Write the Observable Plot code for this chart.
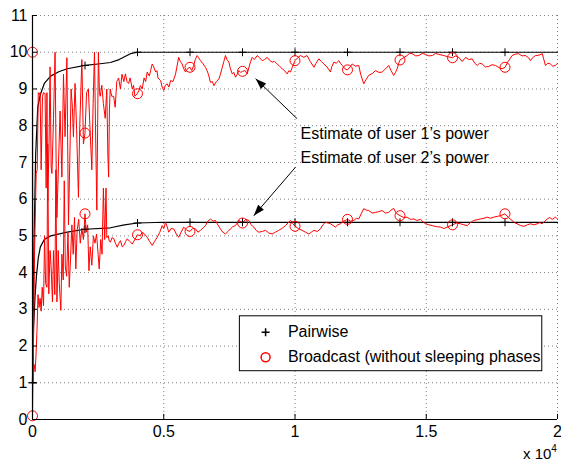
<!DOCTYPE html>
<html><head><meta charset="utf-8">
<script src="https://cdn.jsdelivr.net/npm/d3@7"></script>
<script src="https://cdn.jsdelivr.net/npm/@observablehq/plot@0.6"></script>
<style>body{margin:0;background:#fff;} svg{display:block;}</style>
</head><body><div id="chart"></div>
<script>
// x in units of 10^4 iterations
const xTicks = [0, 0.5, 1, 1.5, 2];
const yTicks = [0, 1, 2, 3, 4, 5, 6, 7, 8, 9, 10, 11];

const pairwiseUser1 = [[0,1],[0.005,4.5],[0.012,7.2],[0.02,8.5],[0.03,8.85],[0.045,9.15],[0.069,9.35],[0.1,9.47],[0.132,9.55],[0.2,9.64],[0.25,9.68],[0.297,9.72],[0.33,9.8],[0.373,9.96],[0.4,10],[2,10]];
const pairwiseUser2 = [[0,1],[0.004,2.5],[0.01,3.4],[0.015,3.9],[0.022,4.4],[0.03,4.7],[0.045,4.9],[0.069,5.0],[0.132,5.1],[0.2,5.18],[0.297,5.22],[0.35,5.3],[0.4,5.35],[0.5,5.37],[2,5.37]];

const broadcastUser1 = [[0,10],[0.002,1.0],[0.008,4.6],[0.014,6.7],[0.018,6.8],[0.022,8.9],[0.026,8.85],[0.029,8.9],[0.033,6.8],[0.038,8.8],[0.042,8.9],[0.048,8.87],[0.052,6.3],[0.055,8.9],[0.058,5.95],[0.063,7.5],[0.067,9.6],[0.071,6.9],[0.074,6.7],[0.08,8.2],[0.086,10.0],[0.09,7.0],[0.093,5.5],[0.1,7.2],[0.105,8.4],[0.112,6.6],[0.118,9.4],[0.124,7.7],[0.131,9.85],[0.137,5.3],[0.142,7.0],[0.147,9.0],[0.152,8.5],[0.156,7.7],[0.162,9.15],[0.168,7.9],[0.175,6.05],[0.18,8.0],[0.188,9.8],[0.194,7.5],[0.2,7.8],[0.206,8.9],[0.213,9.0],[0.218,8.1],[0.226,6.8],[0.231,8.6],[0.236,10.0],[0.24,8.0],[0.245,5.7],[0.251,10.0],[0.255,8.9],[0.258,8.8],[0.264,9.1],[0.27,8.6],[0.277,8.2],[0.283,9.0],[0.287,7.2],[0.29,6.6],[0.293,8.4],[0.296,9.0],[0.302,8.8],[0.309,8.8],[0.315,8.5],[0.321,9.2],[0.328,9.3],[0.335,9.0],[0.341,9.4],[0.348,9.2],
[0.354,9.41],[0.36,9.2],[0.366,9.15],[0.372,9.3],[0.38,9.0],[0.385,9.1],[0.39,8.8],[0.399,8.87],[0.405,8.95],[0.411,9.09],[0.418,9.0],[0.425,9.3],[0.431,9.2],[0.437,9.46],[0.445,9.35],[0.45,9.5],[0.456,9.68],[0.462,9.6],[0.469,9.46],[0.474,9.5],[0.478,9.3],[0.488,9.23],[0.494,9.05],[0.5,8.96],[0.506,9.1],[0.513,9.14],[0.52,9.05],[0.526,9.23],[0.535,9.2],[0.54,9.3],[0.545,9.41],[0.55,9.6],[0.557,9.86],[0.563,9.75],[0.57,9.68],[0.576,9.55],[0.583,9.46],[0.59,9.55],[0.6,9.59],[0.607,9.5],[0.614,9.64],[0.62,9.8],[0.627,9.91],[0.633,9.85],[0.64,9.77],[0.648,9.7],[0.659,9.59],[0.665,9.5],[0.67,9.4],[0.678,9.18],[0.685,9.2],[0.691,9.09],[0.7,9.2],[0.71,9.27],[0.716,9.4],[0.723,9.59],[0.729,9.75],[0.735,9.91],[0.741,9.8],[0.748,9.73],[0.754,9.55],[0.761,9.41],[0.767,9.45],[0.773,9.32],[0.78,9.4],[0.786,9.5],[0.793,9.45],[0.8,9.48],[0.81,9.5],[0.818,9.41],[0.825,9.6],[0.831,9.75],[0.837,9.86],[0.845,9.8],[0.856,9.91],[0.865,9.85],[0.875,9.77],[0.884,9.8],[0.894,9.86],[0.903,9.78],[0.913,9.73],[0.922,9.75],[0.932,9.68],[0.941,9.62],[0.951,9.55],[0.96,9.5],[0.97,9.41],[0.977,9.5],[0.983,9.46],[0.99,9.6],[1.0,9.77],[1.01,9.85],[1.021,9.91],[1.033,9.86],[1.046,9.91],[1.058,9.75],[1.072,9.59],[1.08,9.7],[1.091,9.82],[1.1,9.75],[1.11,9.68],[1.122,9.6],[1.135,9.46],[1.14,9.6],[1.148,9.73],[1.157,9.7],[1.167,9.77],[1.173,9.7],[1.18,9.64],[1.19,9.55],[1.2,9.52],[1.21,9.6],[1.218,9.68],[1.23,9.62],[1.243,9.64],[1.25,9.4],[1.262,9.14],[1.27,9.25],[1.281,9.37],[1.294,9.42],[1.307,9.5],[1.32,9.45],[1.332,9.46],[1.345,9.55],[1.357,9.64],[1.366,9.5],[1.376,9.37],[1.383,9.45],[1.389,9.55],[1.395,9.7],[1.4,9.79],[1.413,9.85],[1.427,9.91],[1.436,9.97],[1.446,9.96],[1.46,9.9],[1.472,9.91],[1.485,9.97],[1.497,9.94],[1.51,9.9],[1.523,9.91],[1.535,9.97],[1.548,9.94],[1.567,9.91],[1.58,9.88],[1.6,9.85],[1.612,9.9],[1.624,9.86],[1.637,9.75],[1.65,9.86],[1.662,9.8],[1.675,9.82],[1.685,9.7],[1.694,9.64],[1.703,9.7],[1.713,9.68],[1.725,9.6],[1.738,9.61],[1.75,9.66],[1.764,9.64],[1.777,9.58],[1.789,9.55],[1.8,9.59],[1.812,9.75],[1.827,9.91],[1.84,9.95],[1.852,9.96],[1.865,9.9],[1.878,9.91],[1.89,9.85],[1.897,9.77],[1.905,9.85],[1.916,9.91],[1.93,9.92],[1.942,9.96],[1.948,9.8],[1.954,9.64],[1.963,9.7],[1.973,9.68],[1.982,9.62],[1.992,9.64],[2.0,9.7]];

const broadcastUser2 = [[0,0.1],[0.002,1.2],[0.006,1.5],[0.01,1.3],[0.013,1.7],[0.017,2.4],[0.021,3.4],[0.025,3.05],[0.029,3.3],[0.033,2.95],[0.037,3.6],[0.042,3.1],[0.046,5.0],[0.05,3.7],[0.055,3.6],[0.058,7.5],[0.062,3.42],[0.067,4.6],[0.071,4.15],[0.076,3.2],[0.08,4.6],[0.085,3.4],[0.089,6.8],[0.093,3.2],[0.098,4.6],[0.102,3.7],[0.108,2.97],[0.112,4.5],[0.117,3.8],[0.121,6.5],[0.125,4.15],[0.13,3.9],[0.135,5.1],[0.14,3.6],[0.145,4.4],[0.15,5.3],[0.155,4.5],[0.16,5.5],[0.165,4.1],[0.17,5.15],[0.176,5.45],[0.182,4.8],[0.188,5.2],[0.194,4.9],[0.2,5.6],[0.205,5.1],[0.21,5.3],[0.215,4.05],[0.22,4.7],[0.226,4.2],[0.232,5.0],[0.238,4.8],[0.244,5.05],[0.25,4.5],[0.254,4.1],[0.26,4.9],[0.265,4.5],[0.27,6.3],[0.275,4.9],[0.28,6.3],[0.283,4.95],[0.288,5.0],[0.293,4.85],
[0.297,4.83],[0.303,4.95],[0.31,4.92],[0.316,4.8],[0.323,4.69],[0.329,4.8],[0.335,4.87],[0.342,4.7],[0.348,4.74],[0.355,4.85],[0.361,4.92],[0.37,4.85],[0.38,4.78],[0.39,4.9],[0.4,5.03],[0.41,5.0],[0.418,5.1],[0.427,5.05],[0.437,4.96],[0.446,4.85],[0.456,4.74],[0.465,4.85],[0.475,4.96],[0.485,5.1],[0.494,5.28],[0.5,5.2],[0.507,5.37],[0.513,5.25],[0.519,5.1],[0.528,5.2],[0.538,5.19],[0.548,5.05],[0.557,4.96],[0.566,5.1],[0.576,5.24],[0.588,5.15],[0.6,5.12],[0.61,5.2],[0.621,5.19],[0.63,5.1],[0.64,5.15],[0.65,5.22],[0.659,5.28],[0.668,5.4],[0.678,5.46],[0.688,5.4],[0.697,5.42],[0.706,5.3],[0.716,5.19],[0.725,5.1],[0.735,5.05],[0.745,5.12],[0.754,5.19],[0.763,5.25],[0.773,5.28],[0.78,5.35],[0.786,5.42],[0.8,5.35],[0.812,5.45],[0.824,5.42],[0.833,5.3],[0.843,5.24],[0.852,5.15],[0.862,5.1],[0.875,5.12],[0.888,5.15],[0.9,5.08],[0.913,5.05],[0.925,5.1],[0.938,5.15],[0.95,5.2],[0.964,5.28],[0.973,5.35],[0.983,5.42],[0.992,5.33],[1.0,5.26],[1.013,5.2],[1.027,5.15],[1.04,5.1],[1.053,5.05],[1.062,5.1],[1.072,5.15],[1.085,5.12],[1.097,5.19],[1.106,5.3],[1.116,5.37],[1.126,5.35],[1.135,5.33],[1.145,5.28],[1.154,5.24],[1.163,5.3],[1.173,5.33],[1.186,5.4],[1.2,5.45],[1.212,5.4],[1.224,5.42],[1.234,5.48],[1.243,5.46],[1.252,5.6],[1.262,5.74],[1.272,5.7],[1.281,5.69],[1.294,5.62],[1.307,5.64],[1.32,5.66],[1.332,5.69],[1.345,5.62],[1.357,5.64],[1.366,5.7],[1.376,5.75],[1.383,5.65],[1.389,5.6],[1.4,5.55],[1.414,5.5],[1.427,5.51],[1.44,5.45],[1.453,5.46],[1.465,5.42],[1.478,5.45],[1.488,5.38],[1.497,5.33],[1.51,5.3],[1.523,5.28],[1.538,5.25],[1.554,5.24],[1.567,5.2],[1.58,5.24],[1.6,5.3],[1.615,5.35],[1.63,5.33],[1.643,5.3],[1.656,5.28],[1.668,5.36],[1.681,5.42],[1.694,5.44],[1.707,5.46],[1.72,5.48],[1.732,5.51],[1.745,5.48],[1.757,5.51],[1.77,5.53],[1.783,5.55],[1.8,5.6],[1.813,5.5],[1.827,5.42],[1.836,5.36],[1.846,5.33],[1.86,5.28],[1.872,5.26],[1.885,5.3],[1.897,5.33],[1.91,5.3],[1.923,5.33],[1.932,5.36],[1.942,5.33],[1.952,5.4],[1.961,5.46],[1.97,5.5],[1.98,5.45],[1.992,5.51],[2.0,5.46]];

// marker positions (every 2000 iterations)
const markerX = [0, 0.2, 0.4, 0.6, 0.8, 1.0, 1.2, 1.4, 1.6, 1.8];
const pairwiseMarks1 = [1, 9.64, 10, 10, 10, 10, 10, 10, 10, 10];
const pairwiseMarks2 = [1, 5.18, 5.35, 5.37, 5.37, 5.37, 5.37, 5.37, 5.37, 5.37];
const broadcastMarks1 = [10, 7.8, 8.87, 9.59, 9.48, 9.77, 9.52, 9.79, 9.85, 9.59];
const broadcastMarks2 = [0.1, 5.6, 5.03, 5.12, 5.35, 5.26, 5.45, 5.55, 5.3, 5.6];

const annotationTexts = ["Estimate of user 1\u2019s power", "Estimate of user 2\u2019s power"];
const annotationX = [1.021, 1.021];
const annotationY = [7.79, 7.13];
const arrowFrom = [[1.008, 8.19], [1.002, 6.87]];
const arrowTo = [[0.85, 9.28], [0.843, 5.55]];

const legendLabels = ["Pairwise", "Broadcast (without sleeping phases"];

const W = 561, H = 468, ML = 32, MR = 4, MT = 15, MB = 49;
const pxPerX = (W - ML - MR) / 2, pxPerY = (H - MT - MB) / 11;
const arrowAngle = arrowFrom.map((f, i) => Math.atan2(-(arrowTo[i][1] - f[1]) * pxPerY, (arrowTo[i][0] - f[0]) * pxPerX) * 180 / Math.PI);

const thinPlus = {draw(ctx, size){ const r = Math.sqrt(size/Math.PI); ctx.moveTo(-r,0); ctx.lineTo(r,0); ctx.moveTo(0,-r); ctx.lineTo(0,r); }};
const arrowHead = {draw(ctx, size){ const L = 11, w = 3.8; ctx.moveTo(0,0); ctx.lineTo(-L, w); ctx.lineTo(-L, -w); ctx.closePath(); }};

const pm = (ys) => markerX.map((x,i)=>[x, ys[i]]);
const FONT = "'Liberation Sans', Arial, Helvetica, sans-serif";

const chart = Plot.plot({
  width: W, height: H,
  marginLeft: ML, marginRight: MR, marginTop: MT, marginBottom: MB,
  x: {domain: [0, 2]},
  y: {domain: [0, 11]},
  style: {fontFamily: FONT, fontSize: "16px", color: "black", background: "white"},
  marks: [
    Plot.gridX(xTicks, {stroke: "#808080", strokeOpacity: 1, strokeDasharray: "1,3"}),
    Plot.gridY(yTicks, {stroke: "#808080", strokeOpacity: 1, strokeDasharray: "1,3"}),
    Plot.axisX(xTicks, {tickSize: 0, tickPadding: 6, fontSize: 16, tickFormat: d => String(d)}),
    Plot.axisY(yTicks, {tickSize: 0, tickPadding: 5, fontSize: 16, tickFormat: d => String(d)}),
    Plot.line(pairwiseUser1, {stroke: "black", strokeWidth: 1.2}),
    Plot.line(pairwiseUser2, {stroke: "black", strokeWidth: 1.2}),
    Plot.line(broadcastUser1, {stroke: "#ff0000", strokeWidth: 1}),
    Plot.line(broadcastUser2, {stroke: "#ff0000", strokeWidth: 1}),
    Plot.dot(pm(pairwiseMarks1), {symbol: thinPlus, r: 4, stroke: "black", strokeWidth: 1, fill: "none"}),
    Plot.dot(pm(pairwiseMarks2), {symbol: thinPlus, r: 4, stroke: "black", strokeWidth: 1, fill: "none"}),
    Plot.dot(pm(broadcastMarks1), {r: 5, stroke: "#ff0000", strokeWidth: 1, fill: "none"}),
    Plot.dot(pm(broadcastMarks2), {r: 5, stroke: "#ff0000", strokeWidth: 1, fill: "none"}),
    Plot.ruleX([0], {y1: 0, y2: 11, stroke: "black", strokeWidth: 1.2}),
    Plot.ruleY([0], {x1: 0, x2: 2, stroke: "black", strokeWidth: 1.2}),
    Plot.ruleY(yTicks, {x1: 0, x2: 0.019, stroke: "black"}),
    Plot.ruleX(xTicks, {y1: 0, y2: 0.14, stroke: "black"}),
    Plot.link([0, 1], {x1: i => arrowFrom[i][0], y1: i => arrowFrom[i][1], x2: i => arrowTo[i][0], y2: i => arrowTo[i][1], stroke: "black", strokeWidth: 1}),
    Plot.dot([0, 1], {x: i => arrowTo[i][0], y: i => arrowTo[i][1], symbol: arrowHead, r: 4, rotate: i => arrowAngle[i], fill: "black", stroke: "none"}),
    Plot.text([0, 1], {x: i => annotationX[i], y: i => annotationY[i], text: i => annotationTexts[i], textAnchor: "start", fontSize: 16, fill: "black"}),
    Plot.rect([0], {x1: 0.79, x2: 1.942, y1: 1.315, y2: 2.81, fill: "white", stroke: "black", strokeWidth: 1}),
    Plot.dot([[0.888, 2.377]], {symbol: thinPlus, r: 4, stroke: "black", fill: "none"}),
    Plot.dot([[0.888, 1.696]], {r: 4.5, stroke: "#ff0000", fill: "none"}),
    Plot.text([0, 1], {x: 0.973, y: i => [2.377, 1.696][i], text: i => legendLabels[i], textAnchor: "start", fontSize: 16, fill: "black"})
  ]
});

const svg = d3.select(chart);
const lbl = svg.append("text").attr("x", 523).attr("y", 459).attr("font-size", 15).attr("fill", "black")
  .attr("text-anchor", "start").attr("font-family", FONT);
lbl.append("tspan").text("x 10");
lbl.append("tspan").attr("dy", -7).attr("font-size", 10).text("4");

document.getElementById("chart").appendChild(chart);
</script>
</body></html>
